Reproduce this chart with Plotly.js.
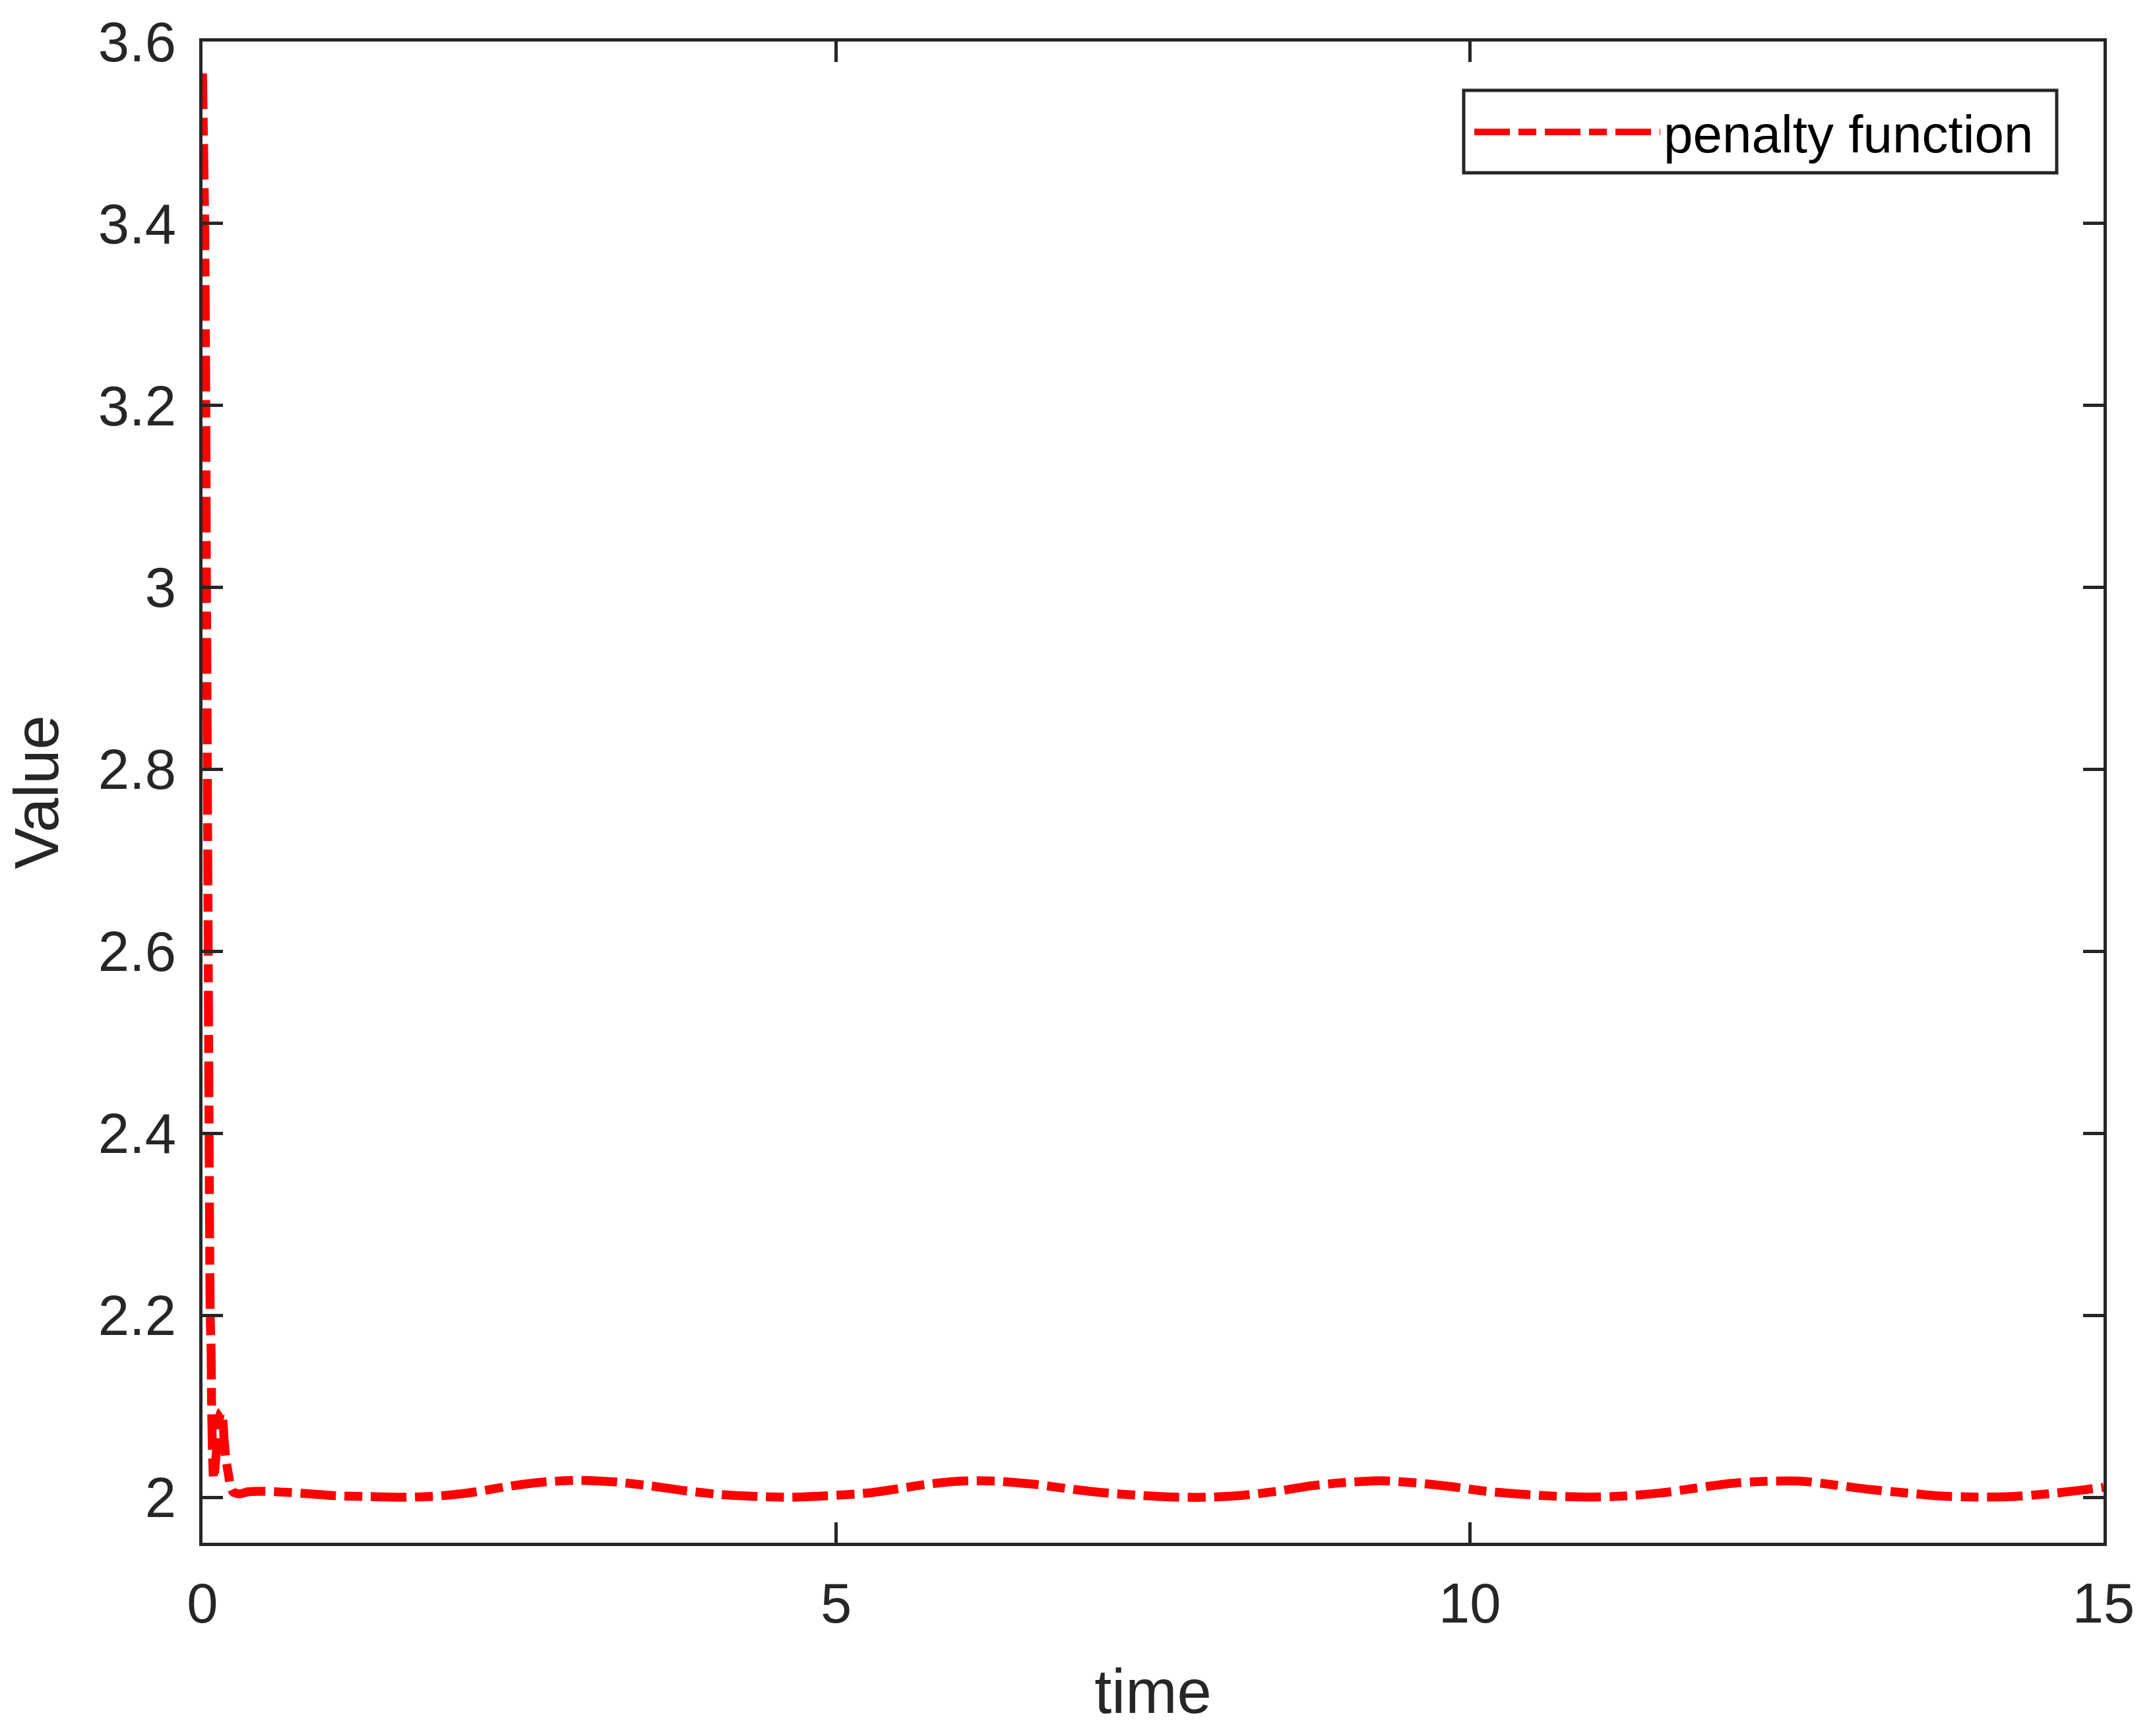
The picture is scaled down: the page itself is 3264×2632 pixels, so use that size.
<!DOCTYPE html>
<html>
<head>
<meta charset="utf-8">
<script src="https://cdn.plot.ly/plotly-3.0.1.min.js"></script>
<style>html,body{margin:0;padding:0;background:#fff;}#chart{width:3264px;height:2632px;}</style>
</head>
<body>
<div id="chart"></div>
<script>
// time samples (s)
const time = [0, 0.009, 0.017, 0.026, 0.031, 0.036, 0.038, 0.045, 0.052, 0.061, 0.068, 0.071, 0.078, 0.088,
  0.11, 0.13, 0.146, 0.16, 0.172, 0.187, 0.205, 0.22, 0.24, 0.29, 0.36, 0.49, 0.78, 1.05, 1.32, 1.61, 1.88,
  2.15, 2.42, 2.70, 2.98, 3.25, 3.53, 3.80, 4.08, 4.35, 4.63, 4.91, 5.24, 5.46, 5.72, 6.01, 6.28, 6.56, 6.83,
  7.10, 7.38, 7.66, 7.93, 8.21, 8.49, 8.75, 9.03, 9.31, 9.58, 9.86, 10.13, 10.43, 10.69, 10.96, 11.23, 11.51,
  11.78, 12.06, 12.34, 12.62, 12.89, 13.16, 13.44, 13.71, 13.99, 14.27, 14.54, 14.82, 15.0];
// penalty function values
const penalty = [3.565, 3.48, 3.40, 3.20, 3.00, 2.87, 2.80, 2.60, 2.40, 2.20, 2.16, 2.11, 2.054, 2.02,
  2.05, 2.085, 2.094, 2.085, 2.06, 2.04, 2.025, 2.012, 2.006, 2.0036, 2.006, 2.0065, 2.0044, 2.0017, 2.0007, 2.0, 2.0015,
  2.0058, 2.0121, 2.0169, 2.0186, 2.0169, 2.0126, 2.0073, 2.0031, 2.001, 2.0, 2.0015, 2.0045, 2.0087, 2.0143, 2.0179, 2.0176, 2.0143, 2.0094,
  2.0051, 2.0022, 2.0002, 2.0, 2.0022, 2.0068, 2.0126, 2.0164, 2.0181, 2.0157, 2.0116, 2.0065, 2.0031, 2.001, 2.0002, 2.0014, 2.0048,
  2.01, 2.0152, 2.0176, 2.0176, 2.0133, 2.0085, 2.0048, 2.0014, 2.0002, 2.0007, 2.0034, 2.0077, 2.011];
const seriesName = 'penalty function';
const xTicks = [0, 5, 10, 15];
const yTicks = [2, 2.2, 2.4, 2.6, 2.8, 3, 3.2, 3.4, 3.6];

const axisColor = '#262626';
const fontFamily = '"Liberation Sans", Arial, Helvetica, sans-serif';

const trace = {
  x: time, y: penalty, type: 'scatter', mode: 'lines', name: seriesName,
  line: {color: '#ff0000', width: 13.5, dash: '54px,13px,27px,13px', shape: 'spline', smoothing: 0.7}
};

const commonAxis = {
  showgrid: false, zeroline: false, showline: true, linecolor: axisColor, linewidth: 5,
  mirror: 'ticks', ticks: 'inside', ticklen: 31, tickwidth: 5, tickcolor: axisColor,
  tickfont: {family: fontFamily, size: 85, color: axisColor}
};

// legend frame (paper coordinates of the plot area)
const plotL = 307, plotR = 3189, plotT = 63, plotB = 2339;
const px = v => (v - plotL) / (plotR - plotL);
const py = v => (plotB - v) / (plotB - plotT);

const layout = {
  width: 3264, height: 2632,
  margin: {l: 307, r: 75, t: 63, b: 293},
  paper_bgcolor: '#ffffff', plot_bgcolor: '#ffffff',
  showlegend: true,
  font: {family: fontFamily, color: axisColor},
  xaxis: Object.assign({}, commonAxis, {
    range: [0, 15], tickmode: 'array', tickvals: xTicks, ticktext: xTicks.map(String),
    ticklabelstandoff: 14,
    title: {text: 'time', font: {family: fontFamily, size: 94, color: axisColor}, standoff: 56}
  }),
  yaxis: Object.assign({}, commonAxis, {
    range: [1.95, 3.6], tickmode: 'array', tickvals: yTicks, ticktext: yTicks.map(String),
    ticklabelstandoff: 18,
    title: {text: 'Value', font: {family: fontFamily, size: 94, color: axisColor}, standoff: 30}
  }),
  shapes: [{
    type: 'rect', xref: 'paper', yref: 'paper',
    x0: px(2219), x1: px(3118), y0: py(262), y1: py(137),
    line: {color: axisColor, width: 5}, fillcolor: '#ffffff', layer: 'above'
  }],
  legend: {
    x: px(2230), y: py(200), xanchor: 'left', yanchor: 'middle',
    bgcolor: 'rgba(0,0,0,0)', borderwidth: 0,
    font: {family: fontFamily, size: 80, color: '#000000'},
    itemwidth: 282
  }
};

Plotly.newPlot('chart', [trace], layout, {staticPlot: true, displayModeBar: false});
</script>
</body>
</html>
